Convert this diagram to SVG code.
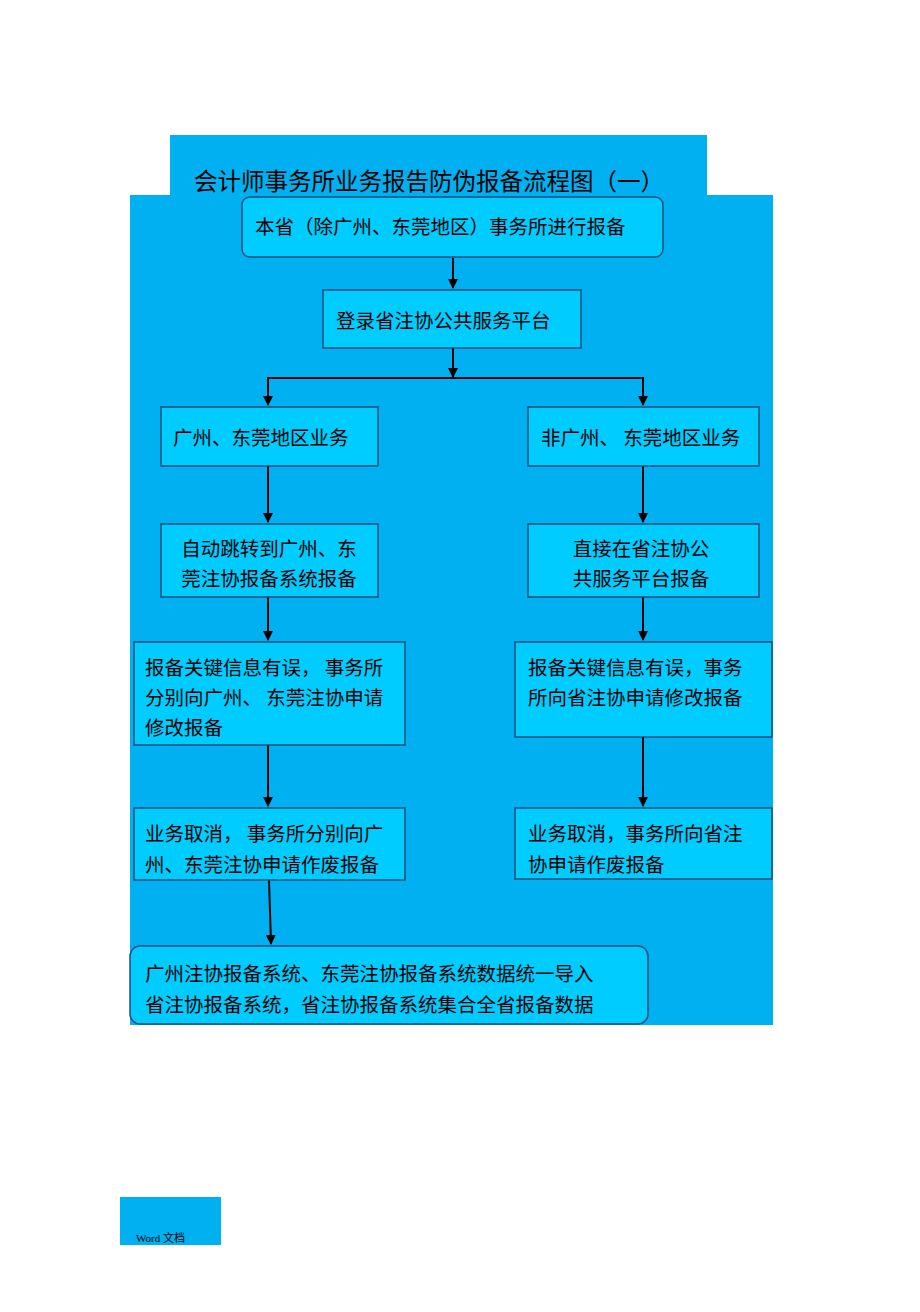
<svg xmlns="http://www.w3.org/2000/svg" width="920" height="1312" viewBox="0 0 920 1312">
<defs>
<style>
.bg{fill:#00b0f0}
.box{fill:#00ccff;stroke:#1f4e79;stroke-width:1.5}
text{font-family:"Noto Sans CJK SC","Noto Sans",sans-serif;font-size:19.5px;fill:#000}
.c{stroke:#000;stroke-width:2;fill:none}
</style>
<marker id="ah" viewBox="0 0 10 10" refX="9" refY="5" markerWidth="5" markerHeight="5" orient="auto"><path d="M0,0L10,5L0,10z" fill="#000"/></marker>
</defs>
<rect width="920" height="1312" fill="#fff"/>
<rect class="bg" x="170" y="135" width="537" height="61"/>
<rect class="bg" x="130" y="195" width="643" height="830"/>
<text x="194" y="190" style="font-size:23.5px">会计师事务所业务报告防伪报备流程图（一）</text>
<g id="connectors">
<line class="c" x1="453" y1="258" x2="453" y2="288" marker-end="url(#ah)"/>
<line class="c" x1="453" y1="348" x2="453" y2="377" marker-end="url(#ah)"/>
<polyline class="c" points="268,405 268,378 643,378 643,405" />
<line class="c" x1="268" y1="390" x2="268" y2="405" marker-end="url(#ah)"/>
<line class="c" x1="643" y1="390" x2="643" y2="405" marker-end="url(#ah)"/>
<line class="c" x1="268" y1="466" x2="268" y2="522" marker-end="url(#ah)"/>
<line class="c" x1="643" y1="466" x2="643" y2="522" marker-end="url(#ah)"/>
<line class="c" x1="268" y1="597" x2="268" y2="640" marker-end="url(#ah)"/>
<line class="c" x1="643" y1="597" x2="643" y2="640" marker-end="url(#ah)"/>
<line class="c" x1="268" y1="745" x2="268" y2="806" marker-end="url(#ah)"/>
<line class="c" x1="643" y1="737" x2="643" y2="806" marker-end="url(#ah)"/>
<line class="c" x1="269" y1="880" x2="271" y2="944" marker-end="url(#ah)"/>
</g>
<g id="n1"><rect class="box" x="242" y="197" width="421" height="60" rx="8"/><text x="255" y="234">本省（除广州、东莞地区）事务所进行报备</text></g>
<g id="n2"><rect class="box" x="323" y="290" width="258" height="58"/><text x="336" y="328">登录省注协公共服务平台</text></g>
<g id="n3"><rect class="box" x="161" y="407" width="217" height="59"/><text x="173" y="445">广州、东莞地区业务</text></g>
<g id="n4"><rect class="box" x="528" y="407" width="231" height="59"/><text x="541" y="445">非广州、 东莞地区业务</text></g>
<g id="n5"><rect class="box" x="161" y="524" width="217" height="73"/><text x="269" y="556" text-anchor="middle">自动跳转到广州、东</text><text x="269" y="586" text-anchor="middle">莞注协报备系统报备</text></g>
<g id="n6"><rect class="box" x="528" y="524" width="231" height="73"/><text x="641" y="556" text-anchor="middle">直接在省注协公</text><text x="641" y="586" text-anchor="middle">共服务平台报备</text></g>
<g id="n7"><rect class="box" x="134" y="642" width="271" height="103"/><text x="145" y="675">报备关键信息有误， 事务所</text><text x="145" y="705">分别向广州、 东莞注协申请</text><text x="145" y="735">修改报备</text></g>
<g id="n8"><rect class="box" x="515" y="642" width="257" height="95"/><text x="528" y="675">报备关键信息有误，事务</text><text x="528" y="705">所向省注协申请修改报备</text></g>
<g id="n9"><rect class="box" x="134" y="808" width="271" height="72"/><text x="145" y="841">业务取消， 事务所分别向广</text><text x="145" y="872">州、东莞注协申请作废报备</text></g>
<g id="n10"><rect class="box" x="515" y="808" width="257" height="71"/><text x="528" y="841">业务取消，事务所向省注</text><text x="528" y="872">协申请作废报备</text></g>
<g id="n11"><rect class="box" x="130" y="946" width="518" height="78" rx="10"/><text x="145" y="981">广州注协报备系统、东莞注协报备系统数据统一导入</text><text x="145" y="1012">省注协报备系统，省注协报备系统集合全省报备数据</text></g>
<rect class="bg" x="120" y="1197" width="101" height="48"/>
<text x="136" y="1242" style="font-size:11px;font-family:'Liberation Serif','Noto Sans CJK SC',serif">Word 文档</text>
</svg>
